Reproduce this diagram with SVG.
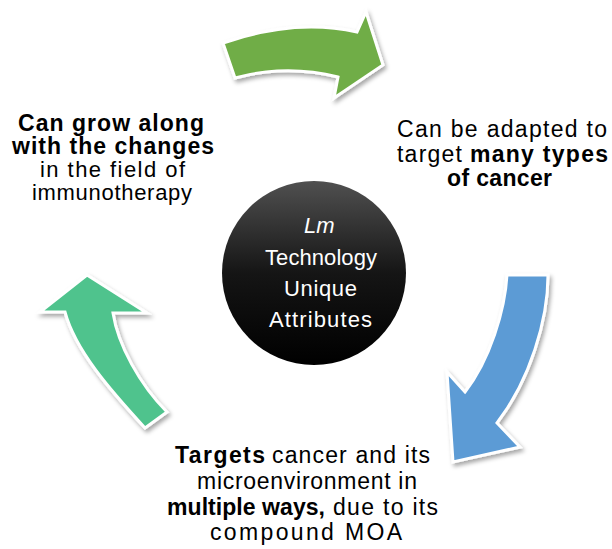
<svg xmlns="http://www.w3.org/2000/svg" width="612" height="549" viewBox="0 0 612 549">
  <style>
    .lbl { font-family: "Liberation Sans", Arial, sans-serif; font-size: 23px; fill: #000; }
    .sm { font-size: 22px; }
    .b { font-weight: bold; }
    .core { font-family: "Liberation Sans", Arial, sans-serif; font-size: 22px; fill: #fff; }
    .arrow { stroke: #fff; stroke-width: 3; stroke-linejoin: miter; filter: url(#shadow); }
  </style>
  <defs>
    <filter id="shadow" x="-20%" y="-20%" width="140%" height="140%">
      <feDropShadow dx="2" dy="3" stdDeviation="2.2" flood-color="#000" flood-opacity="0.35"/>
    </filter>
    <linearGradient id="coreFill" x1="0" y1="0" x2="0" y2="1">
      <stop offset="0" stop-color="#505050"/>
      <stop offset="0.5" stop-color="#151515"/>
      <stop offset="1" stop-color="#000"/>
    </linearGradient>
  </defs>

  <rect width="612" height="549" fill="#fff"/>

  <!-- cycle arrows -->
  <g id="connectors">
    <path id="arrow-top" class="arrow" fill="#70AD47"
          d="M223,43 L235,78 Q286,64 338,77 L334,98 L383,65 L366,12 L357,32 Q295,18 223,43 Z"/>
    <path id="arrow-right" class="arrow" fill="#5B9BD5"
          d="M507,275 L548,275 C548,320 530,380 497,423 L520,447 L453,462 L447,372 L465,392 C490,360 505,310 507,275 Z"/>
    <path id="arrow-left" class="arrow" fill="#4FC38D"
          d="M87,275 L147,313 L113,313 C118,345 140,385 167,412 L145,428 C110,390 75,350 65,312 L40,312 Z"/>
  </g>

  <!-- central hub -->
  <g id="hub">
    <circle cx="314" cy="273" r="92" fill="url(#coreFill)"/>
    <text class="core" x="304" y="233" font-size="23" font-style="italic">Lm</text>
    <text class="core" x="265" y="265" textLength="112" lengthAdjust="spacing">Technology</text>
    <text class="core" x="284" y="296" textLength="73" lengthAdjust="spacing">Unique</text>
    <text class="core" x="269" y="327" textLength="103" lengthAdjust="spacing">Attributes</text>
  </g>

  <!-- attribute: adaptable -->
  <g id="attr-adaptable">
    <text class="lbl" x="397" y="137" textLength="210" lengthAdjust="spacing">Can be adapted to</text>
    <text class="lbl" x="397" y="162" textLength="65" lengthAdjust="spacing">target</text>
    <text class="lbl b" x="470" y="162" textLength="138" lengthAdjust="spacing">many types</text>
    <text class="lbl b" x="447" y="186" textLength="105" lengthAdjust="spacing">of cancer</text>
  </g>

  <!-- attribute: multiple ways -->
  <g id="attr-multiple">
    <text class="lbl b" x="175" y="463" textLength="90" lengthAdjust="spacing">Targets</text>
    <text class="lbl" x="272" y="463" textLength="158" lengthAdjust="spacing">cancer and its</text>
    <text class="lbl" x="197" y="489" textLength="220" lengthAdjust="spacing">microenvironment in</text>
    <text class="lbl b" x="167" y="515" textLength="158" lengthAdjust="spacing">multiple ways,</text>
    <text class="lbl" x="333" y="515" textLength="105" lengthAdjust="spacing">due to its</text>
    <text class="lbl" x="210" y="540" textLength="192" lengthAdjust="spacing">compound MOA</text>
  </g>

  <!-- attribute: grows with the field -->
  <g id="attr-growth">
    <text class="lbl b" x="18" y="131" textLength="186" lengthAdjust="spacing">Can grow along</text>
    <text class="lbl b" x="12" y="154" textLength="202" lengthAdjust="spacing">with the changes</text>
    <text class="lbl sm" x="40" y="177" textLength="145" lengthAdjust="spacing">in the field of</text>
    <text class="lbl sm" x="32" y="200" textLength="160" lengthAdjust="spacing">immunotherapy</text>
  </g>
</svg>
